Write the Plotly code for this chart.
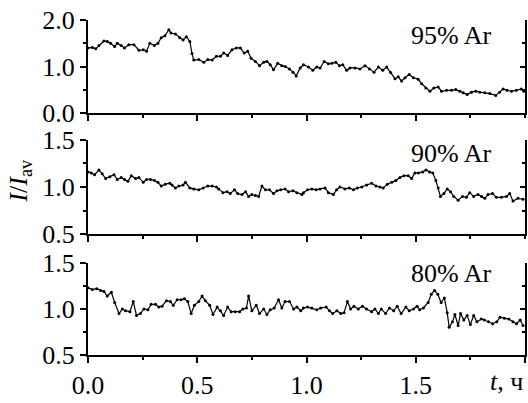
import plotly.graph_objects as go

# ---- data (t in hours, I/I_av) ----
t_95 = [0.0, 0.02, 0.035, 0.05, 0.073, 0.088, 0.103, 0.122, 0.134, 0.152, 0.167, 0.187, 0.21, 0.233, 0.253, 0.268,
        0.283, 0.304, 0.32, 0.335, 0.352, 0.37, 0.38, 0.40, 0.42, 0.435, 0.45, 0.466, 0.476, 0.484, 0.507, 0.53,
        0.548, 0.568, 0.588, 0.606, 0.621, 0.639, 0.659, 0.679, 0.697, 0.715, 0.731, 0.746, 0.766, 0.785, 0.804,
        0.819, 0.834, 0.849, 0.868, 0.887, 0.903, 0.922, 0.938, 0.953, 0.971, 0.986,
        1.009, 1.029, 1.047, 1.062, 1.081, 1.100, 1.116, 1.134, 1.151, 1.166, 1.184, 1.199, 1.222, 1.245, 1.268,
        1.288, 1.309, 1.329, 1.349, 1.367, 1.385, 1.405, 1.420, 1.435, 1.451, 1.470, 1.489, 1.511, 1.527, 1.546,
        1.565, 1.583, 1.603, 1.618, 1.641, 1.664, 1.683, 1.702, 1.717, 1.735, 1.755, 1.775, 1.793, 1.816, 1.839,
        1.866, 1.884, 1.900, 1.918, 1.938, 1.960, 1.983, 1.994]
v_95 = [1.40, 1.41, 1.38, 1.45, 1.55, 1.54, 1.50, 1.43, 1.50, 1.45, 1.40, 1.47, 1.47, 1.35, 1.36, 1.33,
        1.50, 1.45, 1.50, 1.62, 1.66, 1.79, 1.72, 1.70, 1.62, 1.57, 1.64, 1.54, 1.28, 1.14, 1.15, 1.09,
        1.15, 1.14, 1.22, 1.22, 1.29, 1.24, 1.36, 1.40, 1.40, 1.29, 1.33, 1.18, 1.11, 1.02, 1.09,
        1.11, 1.04, 0.93, 1.07, 1.02, 1.00, 0.95, 0.88, 0.80, 0.97, 1.04,
        0.99, 0.92, 0.99, 0.97, 1.11, 1.06, 1.07, 1.09, 1.02, 1.04, 0.92, 0.97, 0.97, 0.95, 1.02,
        0.95, 0.88, 0.99, 0.92, 0.99, 0.87, 0.74, 0.78, 0.69, 0.76, 0.83, 0.76, 0.73, 0.63, 0.54,
        0.47, 0.54, 0.56, 0.47, 0.49, 0.49, 0.51, 0.47, 0.44, 0.40, 0.45, 0.47, 0.45, 0.44, 0.42,
        0.38, 0.45, 0.52, 0.49, 0.47, 0.49, 0.52, 0.47]

t_90 = [0.0, 0.015, 0.030, 0.050, 0.065, 0.081, 0.100, 0.119, 0.134, 0.152, 0.167, 0.183, 0.198, 0.218, 0.233,
        0.253, 0.268, 0.286, 0.304, 0.320, 0.335, 0.354, 0.374, 0.385, 0.400, 0.416, 0.435, 0.446, 0.466, 0.484,
        0.507, 0.527, 0.548, 0.568, 0.588, 0.598, 0.618, 0.636, 0.651, 0.670, 0.685, 0.705, 0.721, 0.735, 0.750,
        0.766, 0.781, 0.796, 0.812, 0.831, 0.849, 0.865, 0.882, 0.902, 0.918, 0.938, 0.956, 0.979, 0.986,
        1.005, 1.025, 1.044, 1.062, 1.085, 1.100, 1.123, 1.138, 1.153, 1.176, 1.196, 1.215, 1.233, 1.253, 1.275,
        1.298, 1.318, 1.336, 1.351, 1.370, 1.390, 1.409, 1.428, 1.446, 1.465, 1.481, 1.496, 1.512, 1.532, 1.547,
        1.563, 1.578, 1.592, 1.603, 1.613, 1.629, 1.644, 1.659, 1.674, 1.694, 1.714, 1.732, 1.747, 1.765, 1.785,
        1.801, 1.816, 1.831, 1.851, 1.869, 1.892, 1.915, 1.930, 1.945, 1.968, 1.991]
v_90 = [1.16, 1.15, 1.13, 1.18, 1.14, 1.09, 1.11, 1.13, 1.08, 1.10, 1.08, 1.06, 1.12, 1.09, 1.10,
        1.05, 1.08, 1.08, 1.07, 1.05, 1.01, 1.03, 1.04, 1.02, 0.99, 1.01, 1.02, 1.05, 0.99, 0.98,
        0.97, 0.99, 1.01, 1.01, 1.00, 0.98, 0.94, 0.95, 0.93, 0.97, 0.93, 0.92, 0.95, 0.90, 0.92,
        0.91, 0.90, 1.01, 0.97, 0.97, 0.93, 0.96, 0.97, 0.98, 0.95, 0.96, 0.94, 0.92, 0.94,
        0.97, 0.98, 0.97, 0.98, 0.99, 0.94, 0.92, 0.97, 1.00, 0.98, 0.99, 0.97, 0.99, 1.00, 1.02,
        1.04, 1.01, 1.00, 0.99, 1.03, 1.05, 1.07, 1.10, 1.12, 1.12, 1.09, 1.15, 1.15, 1.16, 1.18,
        1.16, 1.15, 1.07, 0.99, 0.90, 0.93, 0.98, 0.95, 0.90, 0.86, 0.90, 0.89, 0.94, 0.90, 0.92,
        0.90, 0.88, 0.92, 0.93, 0.89, 0.89, 0.90, 0.93, 0.85, 0.88, 0.87]

t_80 = [0.0, 0.02, 0.040, 0.058, 0.073, 0.088, 0.107, 0.122, 0.142, 0.157, 0.172, 0.192, 0.207, 0.222, 0.240,
        0.256, 0.274, 0.289, 0.309, 0.324, 0.339, 0.359, 0.377, 0.390, 0.408, 0.426, 0.441, 0.457, 0.472, 0.487,
        0.507, 0.522, 0.537, 0.557, 0.572, 0.591, 0.606, 0.621, 0.639, 0.655, 0.674, 0.694, 0.709, 0.725, 0.735,
        0.750, 0.770, 0.785, 0.804, 0.819, 0.834, 0.852, 0.872, 0.887, 0.902, 0.922, 0.941, 0.956, 0.974, 0.986,
        1.005, 1.024, 1.047, 1.065, 1.090, 1.105, 1.120, 1.139, 1.157, 1.172, 1.187, 1.202, 1.217, 1.237, 1.256,
        1.275, 1.298, 1.313, 1.329, 1.342, 1.362, 1.380, 1.399, 1.415, 1.433, 1.455, 1.470, 1.490, 1.506, 1.518,
        1.535, 1.557, 1.571, 1.586, 1.601, 1.616, 1.631, 1.644, 1.653, 1.668, 1.679, 1.694, 1.705, 1.720, 1.735,
        1.750, 1.765, 1.780, 1.800, 1.814, 1.833, 1.852, 1.871, 1.886, 1.906, 1.926, 1.945, 1.961, 1.978, 1.991]
v_80 = [1.23, 1.21, 1.22, 1.20, 1.19, 1.14, 1.18, 1.07, 0.95, 1.00, 0.98, 0.97, 1.08, 0.93, 0.95,
        1.00, 0.99, 1.05, 1.05, 1.02, 1.03, 1.09, 1.08, 1.04, 1.10, 1.10, 1.11, 1.08, 0.95, 1.04,
        1.08, 1.14, 1.09, 1.04, 0.94, 1.02, 0.98, 0.93, 1.02, 0.97, 0.97, 0.97, 1.00, 1.01, 1.14,
        0.98, 1.04, 0.95, 1.00, 0.94, 0.99, 1.01, 1.10, 1.01, 1.08, 1.08, 1.00, 1.02, 0.98, 1.01,
        1.02, 1.01, 0.99, 1.01, 1.02, 0.98, 0.95, 0.98, 0.95, 0.96, 1.08, 1.00, 1.03, 1.00, 1.03,
        1.00, 0.97, 1.00, 0.95, 1.00, 0.95, 1.01, 0.98, 1.03, 0.95, 1.02, 0.98, 1.00, 1.03, 0.99,
        1.01, 1.07, 1.16, 1.20, 1.16, 1.07, 1.12, 0.96, 0.80, 0.86, 0.94, 0.82, 0.95, 0.88, 0.93,
        0.83, 0.93, 0.86, 0.89, 0.88, 0.86, 0.84, 0.86, 0.91, 0.90, 0.89, 0.86, 0.84, 0.88, 0.82]

panel_labels = ["95% Ar", "90% Ar", "80% Ar"]
x_tickvals = [0.0, 0.5, 1.0, 1.5, 2.0]
x_ticktext = ["0.0", "0.5", "1.0", "1.5", ""]

FONT = "Times New Roman, Liberation Serif, serif"
FS = 26

fig = go.Figure()
series = [(t_95, v_95, "x3", "y3", "y6"), (t_90, v_90, "x2", "y2", "y5"), (t_80, v_80, "x", "y", "y4")]
for t, v, xa, ya, yr in series:
    fig.add_trace(go.Scatter(x=t, y=v, xaxis=xa, yaxis=ya, mode="lines+markers",
                             line=dict(color="black", width=1.2),
                             marker=dict(color="black", size=3), showlegend=False, hoverinfo="skip"))
    fig.add_trace(go.Scatter(x=t, y=v, xaxis=xa, yaxis=yr, mode="lines", opacity=0,
                             showlegend=False, hoverinfo="skip"))

tickfont = dict(family=FONT, size=FS, color="black")

def xax(domain_anchor, labels):
    return dict(range=[0, 2.0], anchor=domain_anchor, domain=[0, 1], showline=True, linewidth=2,
                linecolor="black", ticks="outside", ticklen=6, tickwidth=2, tickcolor="black",
                tickvals=x_tickvals, ticktext=x_ticktext, showticklabels=labels, tickfont=tickfont,
                minor=dict(dtick=0.25, ticks="outside", ticklen=3, tickwidth=2, tickcolor="black"),
                showgrid=False, zeroline=False, mirror=False)

def yax(rng, dtick, minor, dom, anchor):
    return dict(range=rng, domain=dom, anchor=anchor, showline=True, linewidth=2, linecolor="black",
                ticks="outside", ticklen=6, tickwidth=2, tickcolor="black", dtick=dtick, tick0=0,
                tickformat=".1f", tickfont=tickfont,
                minor=dict(dtick=minor, ticks="outside", ticklen=3, tickwidth=2, tickcolor="black"),
                showgrid=False, zeroline=False)

def yax_r(rng, dtick, minor, over, anchor):
    return dict(range=rng, overlaying=over, side="right", anchor=anchor, showline=True, linewidth=2,
                linecolor="black", ticks="inside", ticklen=5, tickwidth=2, tickcolor="black",
                dtick=dtick, tick0=0, showticklabels=False,
                minor=dict(dtick=minor, ticks="inside", ticklen=3, tickwidth=2, tickcolor="black"),
                showgrid=False, zeroline=False)

d_top = [0.722, 1.0]
d_mid = [0.361, 0.642]
d_bot = [0.0, 0.275]

fig.update_layout(
    width=528, height=403,
    margin=dict(l=88, r=3, t=20, b=34),
    paper_bgcolor="white", plot_bgcolor="white",
    font=dict(family=FONT, size=FS, color="black"),
    xaxis=xax("y", True),
    xaxis2=xax("y2", False),
    xaxis3=xax("y3", False),
    yaxis=yax([0.5, 1.5], 0.5, 0.25, d_bot, "x"),
    yaxis2=yax([0.5, 1.5], 0.5, 0.25, d_mid, "x2"),
    yaxis3=yax([0, 2.0], 1.0, 0.5, d_top, "x3"),
    yaxis4=yax_r([0.5, 1.5], 0.5, 0.25, "y", "x"),
    yaxis5=yax_r([0.5, 1.5], 0.5, 0.25, "y2", "x2"),
    yaxis6=yax_r([0, 2.0], 1.0, 0.5, "y3", "x3"),
)

ann = []
for lab, yy in zip(panel_labels, [0.954, 0.602, 0.244]):
    ann.append(dict(text=lab, xref="paper", yref="paper", x=0.929, y=yy, xanchor="right",
                    yanchor="middle", showarrow=False, font=dict(family=FONT, size=FS, color="black")))
ann.append(dict(text="<i>I</i>/<i>I</i><sub>av</sub>", xref="paper", yref="paper", x=-0.156, y=0.52,
                textangle=-90, xanchor="center", yanchor="middle", showarrow=False,
                font=dict(family=FONT, size=FS, color="black")))
ann.append(dict(text="<i>t</i>, ч", xref="paper", yref="paper", x=1.0, y=-0.03, xanchor="right",
                yanchor="top", showarrow=False, font=dict(family=FONT, size=FS, color="black")))
fig.update_layout(annotations=ann)

fig.write_html("out.html", config={"displayModeBar": False},
               post_script="document.body.style.margin='0';document.body.style.overflow='hidden';")
